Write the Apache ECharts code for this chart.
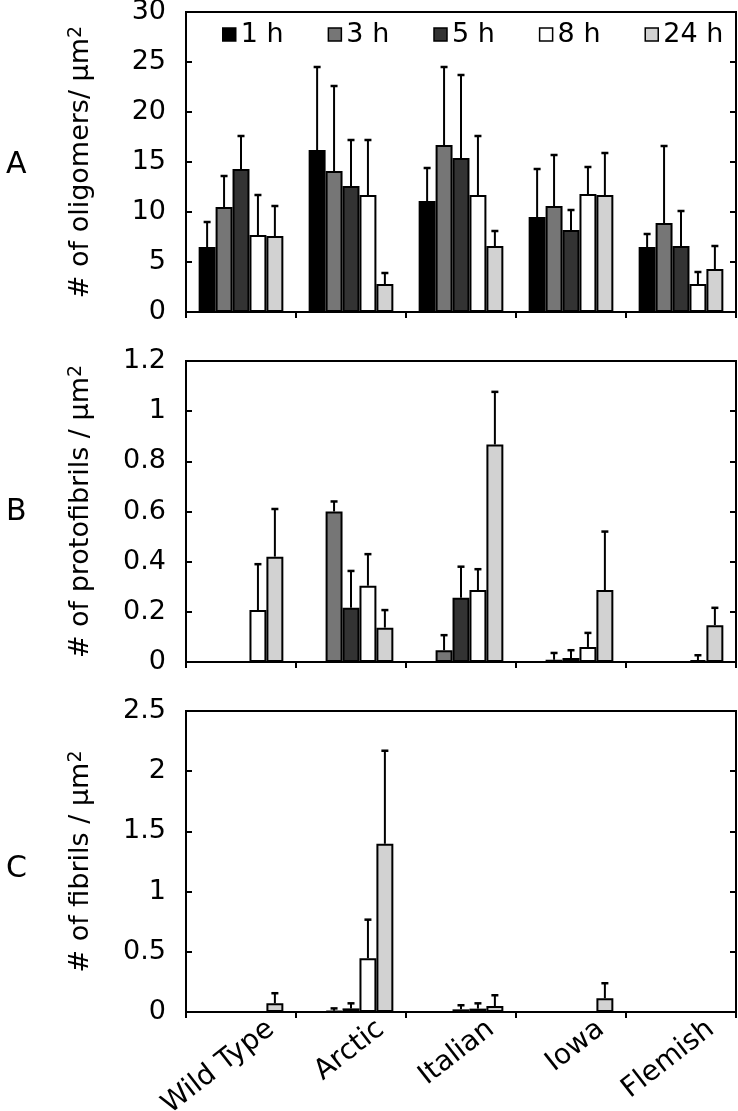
<!DOCTYPE html>
<html><head><meta charset="utf-8">
<script src="https://cdn.jsdelivr.net/npm/echarts@6/dist/echarts.min.js"></script>
<style>html,body{margin:0;padding:0;background:#fff}#c{width:738px;height:1111px}</style>
</head><body><div id="c"></div>
<script>
const categories = ['Wild Type', 'Arctic', 'Italian', 'Iowa', 'Flemish'];
const times = ['1 h', '3 h', '5 h', '8 h', '24 h'];
const colors = ['#000000', '#767676', '#333333', '#ffffff', '#d2d2d2'];

// Panel A: oligomers per µm² (mean) and error (SD, upward)
const oligo1h = [6.5, 16.2, 11.1, 9.5, 6.5];
const oligo3h = [10.5, 14.1, 16.7, 10.6, 8.9];
const oligo5h = [14.3, 12.6, 15.4, 8.2, 6.6];
const oligo8h = [7.7, 11.7, 11.7, 11.8, 2.8];
const oligo24h = [7.6, 2.8, 6.6, 11.7, 4.3];
const oligoErr1h = [2.5, 8.3, 3.3, 4.8, 1.3];
const oligoErr3h = [3.1, 8.5, 7.8, 5.1, 7.7];
const oligoErr5h = [3.3, 4.6, 8.3, 2.0, 3.5];
const oligoErr8h = [4.0, 5.5, 5.9, 2.7, 1.2];
const oligoErr24h = [3.0, 1.1, 1.5, 4.2, 2.3];

// Panel B: protofibrils per µm²
const proto1h = [null, null, null, null, null];
const proto3h = [null, 0.60, 0.047, 0.009, null];
const proto5h = [null, 0.216, 0.256, 0.016, null];
const proto8h = [0.207, 0.304, 0.287, 0.06, 0.007];
const proto24h = [0.42, 0.137, 0.867, 0.287, 0.147];
const protoErr1h = [0, 0, 0, 0, 0];
const protoErr3h = [0, 0.04, 0.06, 0.027, 0];
const protoErr5h = [0, 0.147, 0.124, 0.031, 0];
const protoErr8h = [0.183, 0.126, 0.083, 0.056, 0.02];
const protoErr24h = [0.19, 0.07, 0.21, 0.233, 0.069];

// Panel C: fibrils per µm²
const fib1h = [null, null, null, null, null];
const fib3h = [null, 0.01, null, null, null];
const fib5h = [null, 0.03, 0.022, null, null];
const fib8h = [null, 0.447, 0.028, null, null];
const fib24h = [0.072, 1.397, 0.05, 0.114, null];
const fibErr1h = [0, 0, 0, 0, 0];
const fibErr3h = [0, 0.02, 0, 0, 0];
const fibErr5h = [0, 0.042, 0.034, 0, 0];
const fibErr8h = [0, 0.32, 0.044, 0, 0];
const fibErr24h = [0.084, 0.773, 0.089, 0.125, 0];

const yTicksA = {min: 0, max: 30, interval: 5};
const yTicksB = {min: 0, max: 1.2, interval: 0.2};
const yTicksC = {min: 0, max: 2.5, interval: 0.5};

const panelVals = [
  [oligo1h, oligo3h, oligo5h, oligo8h, oligo24h],
  [proto1h, proto3h, proto5h, proto8h, proto24h],
  [fib1h, fib3h, fib5h, fib8h, fib24h]
];
const panelErrs = [
  [oligoErr1h, oligoErr3h, oligoErr5h, oligoErr8h, oligoErr24h],
  [protoErr1h, protoErr3h, protoErr5h, protoErr8h, protoErr24h],
  [fibErr1h, fibErr3h, fibErr5h, fibErr8h, fibErr24h]
];
const panelTicks = [yTicksA, yTicksB, yTicksC];
const panelNames = ['# of oligomers/ μm{sup|2}', '# of protofibrils / μm{sup|2}', '# of fibrils / μm{sup|2}'];
const panelLetters = ['A', 'B', 'C'];

const FONT = 'DejaVu Sans, sans-serif';
const FS = 27;
const gridTops = [12, 361, 711];
const gridH = [300, 301, 301];
const CAT_GAP = 0.23;

const grids = [], xAxes = [], yAxes = [], series = [], titles = [];
for (let p = 0; p < 3; p++) {
  grids.push({left: 186, width: 550, top: gridTops[p], height: gridH[p], show: true,
    outerBoundsMode: 'none', containLabel: false,
    borderColor: '#000', borderWidth: 2, backgroundColor: 'transparent'});
  xAxes.push({type: 'category', gridIndex: p, data: categories,
    axisLine: {lineStyle: {color: '#000', width: 2}},
    axisTick: {show: true, inside: false, length: 6, lineStyle: {color: '#000', width: 2}},
    axisLabel: {show: false}});
  const t = panelTicks[p];
  yAxes.push({type: 'value', gridIndex: p, position: 'left', min: t.min, max: t.max, interval: t.interval,
    name: panelNames[p], nameLocation: 'middle', nameGap: 92,
    nameTextStyle: {fontSize: FS, color: '#000', fontFamily: FONT,
      rich: {sup: {fontSize: 19, verticalAlign: 'top', lineHeight: 19, color: '#000', fontFamily: FONT}}},
    axisLine: {show: true, lineStyle: {color: '#000', width: 2}},
    axisTick: {show: true, inside: true, length: 6, lineStyle: {color: '#000', width: 2}},
    axisLabel: {fontSize: FS, color: '#000', fontFamily: FONT, margin: 20},
    splitLine: {show: false}});
  yAxes.push({type: 'value', gridIndex: p, position: 'right', min: t.min, max: t.max, interval: t.interval,
    axisLine: {show: true, lineStyle: {color: '#000', width: 2}},
    axisTick: {show: true, inside: true, length: 6, lineStyle: {color: '#000', width: 2}},
    axisLabel: {show: false}, splitLine: {show: false}});
  titles.push({text: panelLetters[p], left: 1, top: [145, 492, 849][p],
    textStyle: {fontSize: 30, fontWeight: 'normal', color: '#000', fontFamily: FONT}});
  for (let k = 0; k < 5; k++) {
    series.push({name: times[k], type: 'bar', xAxisIndex: p, yAxisIndex: p * 2,
      data: panelVals[p][k].map(v => v == null ? '-' : v),
      barGap: '0%', barCategoryGap: (CAT_GAP * 100) + '%',
      itemStyle: {color: colors[k], borderColor: '#000', borderWidth: 2}});
    const errData = [];
    panelVals[p][k].forEach((v, i) => { if (v != null && panelErrs[p][k][i] > 0) errData.push([i, v, panelErrs[p][k][i]]); });
    series.push({name: 'err', type: 'custom', xAxisIndex: p, yAxisIndex: p * 2, z: 5,
      data: errData,
      renderItem: (params, api) => {
        const ci = api.value(0), v = api.value(1), e = api.value(2);
        const band = api.size([1, 0])[0];
        const bw = band * (1 - CAT_GAP) / 5;
        const base = api.coord([ci, v]);
        const top = api.coord([ci, v + e]);
        const x = base[0] + (k - 2) * bw;
        return {type: 'group', children: [
          {type: 'line', shape: {x1: x, y1: base[1], x2: x, y2: top[1]}, style: {stroke: '#000', lineWidth: 2}},
          {type: 'line', shape: {x1: x - 3.5, y1: top[1], x2: x + 3.5, y2: top[1]}, style: {stroke: '#000', lineWidth: 2.5}}
        ]};
      }});
  }
}
// label-only axis for category names (shifted right as in the original)
grids.push({left: 216, width: 550, top: gridTops[2], height: gridH[2], show: false,
  outerBoundsMode: 'none', containLabel: false});
xAxes.push({type: 'category', gridIndex: 3, data: categories,
  axisLine: {show: false}, axisTick: {show: false},
  axisLabel: {show: true, rotate: 38, fontSize: 28, color: '#000', fontFamily: FONT, margin: 14, interval: 0}});
yAxes.push({type: 'value', gridIndex: 3, min: 0, max: 1, show: false});

const chart = echarts.init(document.getElementById('c'), null, {renderer: 'canvas'});
chart.setOption({
  animation: false,
  backgroundColor: '#fff',
  title: titles,
  legend: {data: times, left: 217, top: 16, itemWidth: 13, itemHeight: 13, itemGap: 44,
    icon: 'rect', itemStyle: {borderColor: '#000', borderWidth: 1.5},
    textStyle: {fontSize: FS, color: '#000', fontFamily: FONT}, selectedMode: false},
  grid: grids, xAxis: xAxes, yAxis: yAxes, series: series
});
</script></body></html>
